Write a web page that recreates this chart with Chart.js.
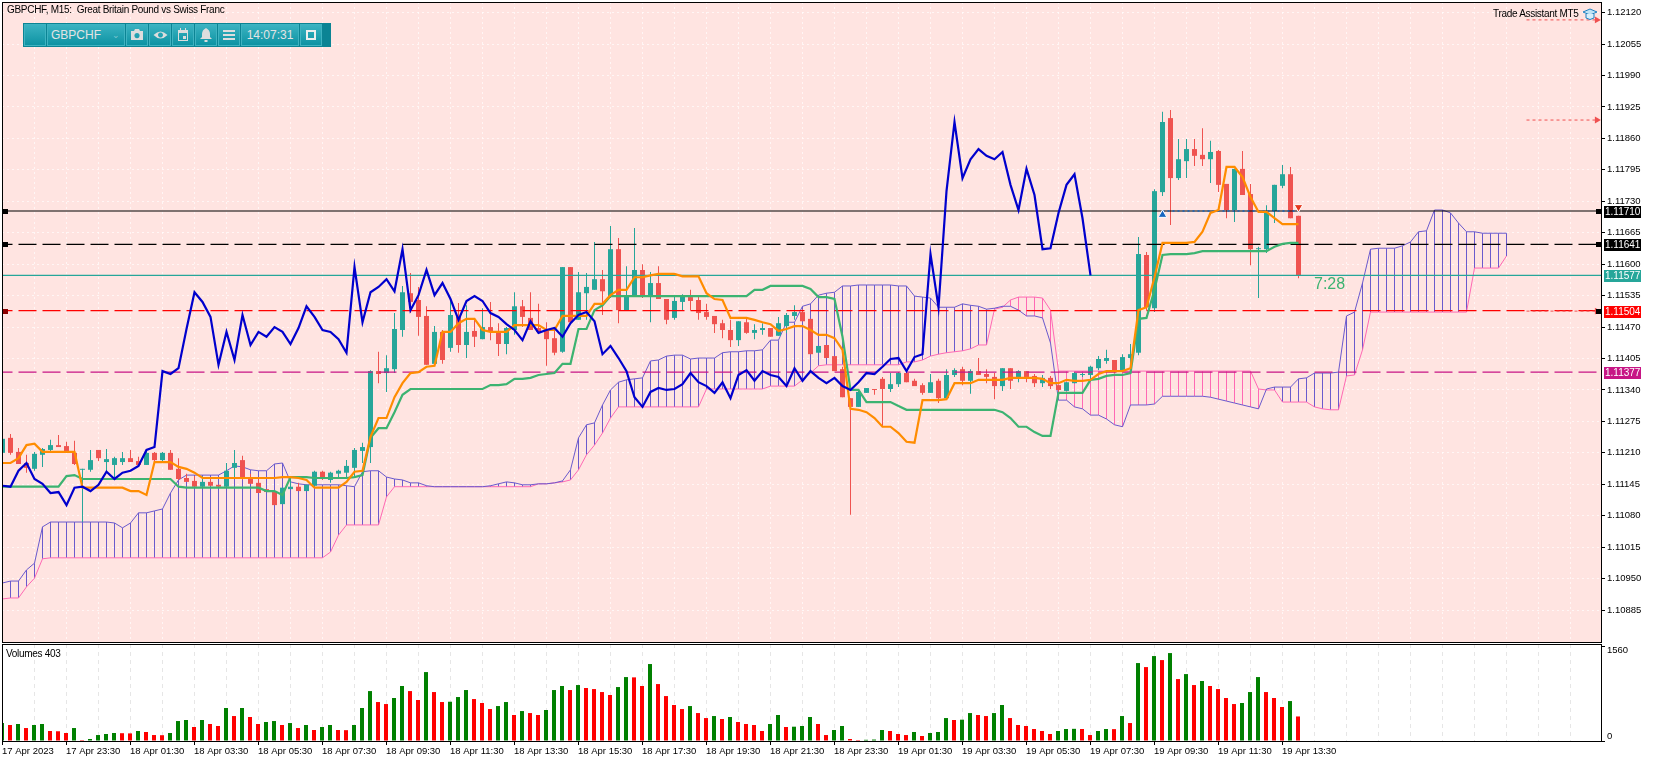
<!DOCTYPE html>
<html lang="en">
<head>
<meta charset="UTF-8">
<title>GBPCHF M15</title>
<script src="https://cdn.jsdelivr.net/npm/chart.js@4"></script>
<style>
  body { margin: 0; background: #fff; width: 1654px; height: 762px; overflow: hidden; font-family: "Liberation Sans", sans-serif; }
  canvas { position: absolute; left: 0; }
  #main { top: 0; }
  #vol { top: 643px; }
  .txt { position: absolute; white-space: pre; color: #000; font-size: 10px; letter-spacing: -0.3px; line-height: 12px; }
  #bar { position: absolute; left: 23px; top: 23px; width: 308px; height: 24px; background: #0b8494; display: flex; padding: 1px; box-sizing: border-box; gap: 1px; }
  #bar div { box-sizing: border-box; height: 22px; background: linear-gradient(#3ab2c1, #0e93a3); border: 1px solid #3fb3c1; color: #e4e4e4; font-size: 12px; line-height: 20px; text-align: center; width: 22px; position: relative; }
  #bar svg { position: absolute; left: 3px; top: 2px; }
</style>
</head>
<body>
<canvas id="main" width="1654" height="644"></canvas>
<canvas id="vol" width="1654" height="119"></canvas>
<div class="txt" style="left:7px;top:4px">GBPCHF, M15:  Great Britain Pound vs Swiss Franc</div>
<div class="txt" style="left:6px;top:648px">Volumes 403</div>
<div class="txt" style="left:1493px;top:8px">Trade Assistant MT5</div>
<div class="txt" style="left:1314px;top:275px;font-size:16px;letter-spacing:0;line-height:18px;color:#3cb371">7:28</div>
<svg style="position:absolute;left:1582px;top:7px" width="16" height="15" viewBox="0 0 16 15">
  <path d="M1 5 L8 2 L15 5 L8 8 Z" fill="#bfe3f5" stroke="#1e7fc0"/>
  <path d="M4 7 V11 Q8 14 12 11 V7" fill="#d8eefa" stroke="#1e7fc0"/>
</svg>
<div id="bar">
  <div style="width:22px"></div>
  <div style="width:78px;text-align:left;padding-left:3px">GBPCHF<span style="position:absolute;right:4px;top:0;color:#7fc6d0;font-size:9px">&#8964;</span></div>
  <div><svg width="14" height="16" viewBox="0 0 14 16"><path d="M1 4 H4 L5 2 H9 L10 4 H13 V13 H1 Z M7 6 A2.6 2.6 0 1 0 7.01 6 Z" fill="#ddd" fill-rule="evenodd"/></svg></div>
  <div><svg width="15" height="16" viewBox="0 0 15 16"><path d="M0.5 8 Q7.5 1 14.5 8 Q7.5 15 0.5 8 Z M7.5 5.5 A2.5 2.5 0 1 0 7.51 5.5 Z" fill="#ddd" fill-rule="evenodd"/></svg></div>
  <div><svg width="14" height="16" viewBox="0 0 14 16"><path d="M2 3 H4 V1 H5 V3 H9 V1 H10 V3 H12 V14 H2 Z M3 6 V13 H11 V6 Z M7 9 H10 V12 H7 Z" fill="#ddd" fill-rule="evenodd"/></svg></div>
  <div><svg width="14" height="16" viewBox="0 0 14 16"><path d="M7 1 Q11 3 11 7 V10 L13 12 H1 L3 10 V7 Q3 3 7 1 Z M5.5 13 H8.5 V15 H5.5 Z" fill="#ddd"/></svg></div>
  <div><svg width="14" height="16" viewBox="0 0 14 16"><path d="M1 3 H13 V5 H1 Z M1 7 H13 V9 H1 Z M1 11 H13 V13 H1 Z" fill="#ddd"/></svg></div>
  <div style="width:58px">14:07:31</div>
  <div><svg width="14" height="16" viewBox="0 0 14 16"><path d="M3 4 H11 V12 H3 Z" fill="none" stroke="#eee" stroke-width="2"/></svg></div>
</div>
<script>
// candles
const opens = [
  1.11210,1.11241,1.11212,1.11189,1.11177,1.11206,1.11216,1.11226,1.11224,1.11210,
  1.11175,1.11175,1.11216,1.11191,1.11185,1.11191,1.11199,1.11193,1.11185,1.11210,
  1.11195,1.11210,1.11177,1.11158,1.11152,1.11140,1.11150,1.11144,1.11140,1.11179,
  1.11195,1.11156,1.11148,1.11135,1.11129,1.11104,1.11135,1.11140,1.11131,1.11142,
  1.11171,1.11154,1.11167,1.11169,1.11179,1.11214,1.11222,1.11379,1.11375,1.11383,
  1.11464,1.11540,1.11526,1.11493,1.11394,1.11460,1.11427,1.11491,1.11433,1.11462,
  1.11445,1.11470,1.11460,1.11435,1.11464,1.11513,1.11489,1.11468,1.11462,1.11447,
  1.11419,1.11594,1.11485,1.11540,1.11547,1.11569,1.11534,1.11631,1.11505,1.11536,
  1.11588,1.11536,1.11561,1.11528,1.11489,1.11522,1.11532,1.11526,1.11501,1.11493,
  1.11478,1.11464,1.11443,1.11480,1.11458,1.11464,1.11468,1.11452,1.11472,1.11493,
  1.11501,1.11487,1.11417,1.11433,1.11410,1.11383,1.11323,1.11305,1.11334,1.11342,
  1.11363,1.11342,1.11352,1.11375,1.11359,1.11350,1.11334,1.11359,1.11323,1.11371,
  1.11383,1.11359,1.11379,1.11373,1.11367,1.11348,1.11385,1.11365,1.11379,1.11369,
  1.11354,1.11365,1.11350,1.11338,1.11354,1.11371,1.11371,1.11385,1.11400,1.11402,
  1.11381,1.11406,1.11417,1.11619,1.11509,1.11749,1.11902,1.11778,1.11813,1.11838,
  1.11826,1.11817,1.11834,1.11766,1.11712,1.11797,1.11745,1.11631,1.11631,1.11710,
  1.11762,1.11786,1.11700
];
const highs = [
  1.11241,1.11249,1.11220,1.11206,1.11212,1.11220,1.11237,1.11247,1.11233,1.11235,
  1.11177,1.11216,1.11216,1.11218,1.11202,1.11212,1.11216,1.11202,1.11216,1.11212,
  1.11212,1.11216,1.11199,1.11167,1.11162,1.11162,1.11158,1.11144,1.11189,1.11216,
  1.11204,1.11167,1.11158,1.11135,1.11129,1.11138,1.11160,1.11148,1.11144,1.11173,
  1.11173,1.11171,1.11175,1.11195,1.11220,1.11231,1.11381,1.11419,1.11412,1.11499,
  1.11555,1.11582,1.11553,1.11513,1.11472,1.11464,1.11526,1.11520,1.11515,1.11485,
  1.11509,1.11522,1.11478,1.11470,1.11542,1.11526,1.11542,1.11518,1.11480,1.11468,
  1.11594,1.11594,1.11584,1.11582,1.11646,1.11588,1.11679,1.11654,1.11596,1.11675,
  1.11600,1.11584,1.11596,1.11528,1.11536,1.11538,1.11547,1.11532,1.11518,1.11493,
  1.11485,1.11485,1.11482,1.11491,1.11476,1.11478,1.11468,1.11491,1.11499,1.11515,
  1.11507,1.11487,1.11431,1.11433,1.11410,1.11388,1.11323,1.11340,1.11344,1.11342,
  1.11367,1.11375,1.11377,1.11377,1.11363,1.11354,1.11373,1.11363,1.11383,1.11385,
  1.11388,1.11383,1.11406,1.11383,1.11375,1.11385,1.11385,1.11381,1.11379,1.11373,
  1.11371,1.11369,1.11350,1.11356,1.11377,1.11375,1.11390,1.11410,1.11423,1.11402,
  1.11414,1.11435,1.11656,1.11625,1.11755,1.11915,1.11919,1.11859,1.11859,1.11859,
  1.11881,1.11855,1.11836,1.11766,1.11797,1.11834,1.11766,1.11636,1.11722,1.11764,
  1.11805,1.11801,1.11700
];
const lows = [
  1.11208,1.11206,1.11187,1.11169,1.11173,1.11181,1.11212,1.11222,1.11210,1.11185,
  1.11067,1.11171,1.11193,1.11171,1.11158,1.11185,1.11191,1.11183,1.11185,1.11193,
  1.11193,1.11175,1.11154,1.11150,1.11140,1.11140,1.11142,1.11140,1.11138,1.11160,
  1.11154,1.11146,1.11127,1.11129,1.11102,1.11104,1.11135,1.11131,1.11131,1.11140,
  1.11154,1.11148,1.11158,1.11160,1.11158,1.11189,1.11189,1.11354,1.11336,1.11375,
  1.11450,1.11499,1.11452,1.11392,1.11392,1.11394,1.11419,1.11417,1.11406,1.11429,
  1.11445,1.11443,1.11410,1.11414,1.11454,1.11470,1.11464,1.11458,1.11390,1.11412,
  1.11417,1.11480,1.11485,1.11485,1.11547,1.11495,1.11530,1.11478,1.11505,1.11532,
  1.11530,1.11480,1.11528,1.11476,1.11485,1.11505,1.11505,1.11485,1.11485,1.11458,
  1.11447,1.11429,1.11431,1.11456,1.11445,1.11454,1.11450,1.11452,1.11458,1.11485,
  1.11482,1.11414,1.11417,1.11406,1.11379,1.11325,1.11082,1.11305,1.11334,1.11330,
  1.11264,1.11336,1.11346,1.11356,1.11348,1.11330,1.11334,1.11313,1.11323,1.11367,
  1.11350,1.11332,1.11371,1.11354,1.11321,1.11338,1.11342,1.11356,1.11356,1.11346,
  1.11346,1.11342,1.11330,1.11338,1.11354,1.11367,1.11361,1.11381,1.11394,1.11375,
  1.11379,1.11381,1.11412,1.11505,1.11501,1.11741,1.11681,1.11774,1.11778,1.11803,
  1.11803,1.11768,1.11749,1.11695,1.11687,1.11743,1.11598,1.11530,1.11623,1.11685,
  1.11757,1.11695,1.11571
];
const closes = [
  1.11239,1.11210,1.11187,1.11179,1.11208,1.11218,1.11226,1.11222,1.11212,1.11187,
  1.11177,1.11195,1.11199,1.11197,1.11199,1.11199,1.11191,1.11185,1.11210,1.11195,
  1.11210,1.11175,1.11156,1.11150,1.11140,1.11150,1.11142,1.11140,1.11173,1.11189,
  1.11156,1.11146,1.11127,1.11129,1.11102,1.11138,1.11140,1.11131,1.11144,1.11171,
  1.11156,1.11169,1.11173,1.11183,1.11216,1.11222,1.11379,1.11373,1.11385,1.11466,
  1.11542,1.11522,1.11491,1.11392,1.11460,1.11402,1.11495,1.11433,1.11460,1.11450,
  1.11470,1.11460,1.11435,1.11468,1.11513,1.11491,1.11464,1.11460,1.11445,1.11417,
  1.11594,1.11480,1.11542,1.11553,1.11569,1.11544,1.11631,1.11505,1.11536,1.11588,
  1.11536,1.11561,1.11528,1.11485,1.11524,1.11534,1.11524,1.11499,1.11491,1.11476,
  1.11464,1.11443,1.11482,1.11458,1.11464,1.11468,1.11450,1.11478,1.11495,1.11501,
  1.11482,1.11414,1.11431,1.11406,1.11379,1.11325,1.11305,1.11336,1.11344,1.11340,
  1.11342,1.11352,1.11375,1.11356,1.11348,1.11334,1.11356,1.11323,1.11371,1.11381,
  1.11359,1.11379,1.11371,1.11367,1.11348,1.11385,1.11359,1.11379,1.11365,1.11354,
  1.11365,1.11348,1.11340,1.11356,1.11375,1.11373,1.11388,1.11404,1.11406,1.11379,
  1.11408,1.11414,1.11621,1.11511,1.11751,1.11894,1.11778,1.11817,1.11838,1.11824,
  1.11817,1.11832,1.11764,1.11712,1.11797,1.11743,1.11631,1.11633,1.11706,1.11764,
  1.11786,1.11695,1.11577
];

// ichimoku lines
const tenkan = [
  1.11189,1.11189,1.11199,1.11226,1.11229,1.11212,1.11212,1.11212,1.11212,1.11212,
  1.11138,1.11138,1.11138,1.11138,1.11138,1.11138,1.11131,1.11131,1.11123,1.11191,
  1.11191,1.11191,1.11181,1.11177,1.11169,1.11158,1.11158,1.11158,1.11158,1.11158,
  1.11158,1.11158,1.11158,1.11158,1.11158,1.11160,1.11160,1.11158,1.11154,1.11138,
  1.11138,1.11138,1.11138,1.11150,1.11171,1.11173,1.11243,1.11282,1.11282,1.11325,
  1.11354,1.11375,1.11377,1.11388,1.11390,1.11460,1.11460,1.11478,1.11487,1.11487,
  1.11464,1.11460,1.11460,1.11460,1.11474,1.11474,1.11474,1.11474,1.11464,1.11464,
  1.11493,1.11493,1.11493,1.11493,1.11518,1.11518,1.11536,1.11547,1.11547,1.11573,
  1.11573,1.11577,1.11580,1.11580,1.11580,1.11575,1.11575,1.11575,1.11540,1.11528,
  1.11526,1.11489,1.11489,1.11489,1.11485,1.11480,1.11476,1.11462,1.11466,1.11472,
  1.11472,1.11464,1.11454,1.11454,1.11447,1.11423,1.11301,1.11299,1.11294,1.11282,
  1.11264,1.11264,1.11251,1.11233,1.11231,1.11319,1.11319,1.11319,1.11321,1.11354,
  1.11354,1.11354,1.11361,1.11361,1.11361,1.11361,1.11365,1.11365,1.11365,1.11365,
  1.11363,1.11354,1.11354,1.11361,1.11359,1.11359,1.11361,1.11373,1.11379,1.11379,
  1.11379,1.11385,1.11505,1.11511,1.11573,1.11644,1.11644,1.11644,1.11644,1.11646,
  1.11667,1.11706,1.11712,1.11801,1.11801,1.11780,1.11739,1.11708,1.11708,1.11695,
  1.11683,1.11683,1.11683
];
const kijun = [
  1.11140,1.11140,1.11140,1.11140,1.11140,1.11140,1.11140,1.11140,1.11162,1.11164,
  1.11156,1.11156,1.11156,1.11156,1.11156,1.11156,1.11156,1.11156,1.11156,1.11156,
  1.11156,1.11156,1.11140,1.11138,1.11138,1.11138,1.11138,1.11138,1.11138,1.11138,
  1.11138,1.11138,1.11138,1.11131,1.11131,1.11123,1.11160,1.11160,1.11160,1.11158,
  1.11158,1.11158,1.11158,1.11158,1.11160,1.11164,1.11241,1.11261,1.11261,1.11294,
  1.11330,1.11342,1.11342,1.11342,1.11342,1.11342,1.11342,1.11342,1.11342,1.11342,
  1.11342,1.11350,1.11350,1.11352,1.11363,1.11363,1.11365,1.11371,1.11373,1.11375,
  1.11394,1.11394,1.11466,1.11466,1.11505,1.11515,1.11534,1.11534,1.11534,1.11534,
  1.11534,1.11534,1.11534,1.11534,1.11534,1.11534,1.11534,1.11534,1.11534,1.11534,
  1.11534,1.11534,1.11534,1.11534,1.11547,1.11547,1.11555,1.11555,1.11555,1.11555,
  1.11555,1.11549,1.11532,1.11532,1.11528,1.11450,1.11340,1.11340,1.11315,1.11315,
  1.11315,1.11315,1.11307,1.11299,1.11299,1.11299,1.11299,1.11299,1.11299,1.11299,
  1.11299,1.11299,1.11299,1.11299,1.11299,1.11294,1.11282,1.11264,1.11264,1.11253,
  1.11245,1.11245,1.11334,1.11334,1.11334,1.11334,1.11361,1.11363,1.11369,1.11371,
  1.11371,1.11375,1.11487,1.11489,1.11547,1.11619,1.11621,1.11621,1.11621,1.11623,
  1.11627,1.11627,1.11627,1.11627,1.11627,1.11627,1.11627,1.11627,1.11627,1.11636,
  1.11642,1.11644,1.11644
];
const chikou = [
  1.11142,1.11140,1.11173,1.11189,1.11156,1.11146,1.11127,1.11129,1.11102,1.11138,
  1.11140,1.11131,1.11144,1.11171,1.11156,1.11169,1.11173,1.11183,1.11216,1.11222,
  1.11379,1.11373,1.11385,1.11466,1.11542,1.11522,1.11491,1.11392,1.11460,1.11402,
  1.11495,1.11433,1.11460,1.11450,1.11470,1.11460,1.11435,1.11468,1.11513,1.11491,
  1.11464,1.11460,1.11445,1.11417,1.11594,1.11480,1.11542,1.11553,1.11569,1.11544,
  1.11631,1.11505,1.11536,1.11588,1.11536,1.11561,1.11528,1.11485,1.11524,1.11534,
  1.11524,1.11499,1.11491,1.11476,1.11464,1.11443,1.11482,1.11458,1.11464,1.11468,
  1.11450,1.11478,1.11495,1.11501,1.11482,1.11414,1.11431,1.11406,1.11379,1.11325,
  1.11305,1.11336,1.11344,1.11340,1.11342,1.11352,1.11375,1.11356,1.11348,1.11334,
  1.11356,1.11323,1.11371,1.11381,1.11359,1.11379,1.11371,1.11367,1.11348,1.11385,
  1.11359,1.11379,1.11365,1.11354,1.11365,1.11348,1.11340,1.11356,1.11375,1.11373,
  1.11388,1.11404,1.11406,1.11379,1.11408,1.11414,1.11621,1.11511,1.11751,1.11894,
  1.11778,1.11817,1.11838,1.11824,1.11817,1.11832,1.11764,1.11712,1.11797,1.11743,
  1.11631,1.11633,1.11706,1.11764,1.11786,1.11695,1.11577
];
const senkouA = [
  1.10941,1.10945,1.10945,1.10968,1.10982,1.11057,1.11067,1.11067,1.11067,1.11067,
  1.11067,1.11067,1.11067,1.11067,1.11065,1.11055,1.11065,1.11086,1.11086,1.11090,
  1.11094,1.11127,1.11154,1.11164,1.11164,1.11164,1.11164,1.11164,1.11173,1.11183,
  1.11181,1.11175,1.11173,1.11173,1.11187,1.11189,1.11150,1.11146,1.11144,1.11144,
  1.11144,1.11144,1.11144,1.11142,1.11140,1.11171,1.11173,1.11173,1.11160,1.11156,
  1.11154,1.11148,1.11148,1.11142,1.11140,1.11140,1.11140,1.11140,1.11140,1.11140,
  1.11140,1.11142,1.11146,1.11150,1.11148,1.11144,1.11144,1.11146,1.11146,1.11148,
  1.11152,1.11175,1.11241,1.11268,1.11272,1.11309,1.11340,1.11356,1.11361,1.11363,
  1.11365,1.11400,1.11402,1.11410,1.11412,1.11412,1.11404,1.11406,1.11406,1.11406,
  1.11417,1.11419,1.11419,1.11421,1.11421,1.11423,1.11443,1.11443,1.11480,1.11480,
  1.11513,1.11518,1.11536,1.11540,1.11542,1.11555,1.11555,1.11557,1.11557,1.11557,
  1.11557,1.11557,1.11555,1.11555,1.11534,1.11532,1.11530,1.11511,1.11511,1.11511,
  1.11518,1.11515,1.11513,1.11507,1.11509,1.11513,1.11513,1.11505,1.11493,1.11493,
  1.11489,1.11437,1.11319,1.11319,1.11305,1.11301,1.11288,1.11288,1.11280,1.11268,
  1.11264,1.11309,1.11309,1.11309,1.11311,1.11327,1.11327,1.11327,1.11327,1.11327,
  1.11327,1.11325,1.11321,1.11317,1.11313,1.11309,1.11305,1.11301,1.11342,1.11346,
  1.11346,1.11346,1.11363,1.11365,1.11375,1.11375,1.11375,1.11377,1.11493,1.11501,
  1.11561,1.11631,1.11633,1.11633,1.11633,1.11638,1.11646,1.11667,1.11669,1.11712,
  1.11712,1.11706,1.11685,1.11667,1.11667,1.11664,1.11664,1.11664,1.11664
];
const senkouB = [
  1.10908,1.10910,1.10910,1.10933,1.10951,1.10991,1.10993,1.10993,1.10993,1.10993,
  1.10993,1.10993,1.10993,1.10993,1.10993,1.10993,1.10993,1.10993,1.10993,1.10993,
  1.10993,1.10993,1.10993,1.10993,1.10993,1.10993,1.10993,1.10993,1.10993,1.10993,
  1.10993,1.10993,1.10993,1.10993,1.10993,1.10993,1.10993,1.10993,1.10993,1.10993,
  1.10993,1.11005,1.11040,1.11061,1.11061,1.11061,1.11061,1.11061,1.11119,1.11140,
  1.11140,1.11140,1.11140,1.11140,1.11140,1.11140,1.11140,1.11140,1.11140,1.11140,
  1.11140,1.11140,1.11140,1.11140,1.11140,1.11140,1.11140,1.11146,1.11146,1.11148,
  1.11150,1.11154,1.11175,1.11206,1.11226,1.11251,1.11282,1.11305,1.11305,1.11305,
  1.11305,1.11305,1.11305,1.11305,1.11305,1.11305,1.11305,1.11305,1.11342,1.11342,
  1.11342,1.11342,1.11342,1.11342,1.11342,1.11342,1.11348,1.11348,1.11348,1.11348,
  1.11361,1.11375,1.11390,1.11392,1.11392,1.11392,1.11392,1.11392,1.11392,1.11392,
  1.11392,1.11392,1.11392,1.11398,1.11398,1.11402,1.11410,1.11414,1.11417,1.11419,
  1.11421,1.11425,1.11433,1.11433,1.11507,1.11511,1.11526,1.11532,1.11532,1.11532,
  1.11530,1.11505,1.11379,1.11379,1.11379,1.11379,1.11379,1.11379,1.11379,1.11379,
  1.11379,1.11379,1.11379,1.11379,1.11379,1.11379,1.11379,1.11379,1.11379,1.11379,
  1.11379,1.11379,1.11379,1.11379,1.11379,1.11379,1.11379,1.11342,1.11340,1.11340,
  1.11315,1.11315,1.11315,1.11315,1.11305,1.11301,1.11299,1.11299,1.11369,1.11371,
  1.11423,1.11501,1.11501,1.11501,1.11501,1.11501,1.11501,1.11501,1.11501,1.11501,
  1.11501,1.11501,1.11501,1.11501,1.11592,1.11592,1.11592,1.11592,1.11617
];

const volumes = [
  295,263,279,213,263,279,164,160,131,213,
  16,33,98,115,131,128,125,164,148,98,
  95,131,328,345,230,345,279,246,542,410,
  542,394,279,312,328,263,295,213,263,181,
  230,263,181,178,263,542,820,640,607,706,
  903,820,673,1132,804,640,645,722,837,689,
  624,525,574,640,427,492,459,427,509,837,
  903,837,919,870,853,804,755,886,1050,1045,
  903,1264,935,738,591,525,574,459,377,410,
  361,394,312,279,263,164,279,427,230,235,
  246,394,279,98,181,246,33,16,20,24,
  181,164,115,98,148,82,131,148,377,345,
  350,459,427,410,459,591,377,263,246,197,
  164,115,164,197,200,197,98,164,197,195,
  410,295,1280,1214,1395,1329,1444,1017,1099,919,
  985,903,853,706,607,624,804,1050,804,706,
  558,656,403
];

const priceTicks = [1.12120,1.12055,1.11990,1.11925,1.11860,1.11795,1.11730,1.11665,1.11600,1.11535,1.11470,1.11405,1.11340,1.11275,1.11210,1.11145,1.11080,1.11015,1.10950,1.10885];
const timeLabels = ["17 Apr 2023","17 Apr 23:30","18 Apr 01:30","18 Apr 03:30","18 Apr 05:30","18 Apr 07:30","18 Apr 09:30","18 Apr 11:30","18 Apr 13:30","18 Apr 15:30","18 Apr 17:30","18 Apr 19:30","18 Apr 21:30","18 Apr 23:30","19 Apr 01:30","19 Apr 03:30","19 Apr 05:30","19 Apr 07:30","19 Apr 09:30","19 Apr 11:30","19 Apr 13:30"];

// horizontal levels drawn on the chart
const levels = [1.11710, 1.11641, 1.11577, 1.11504, 1.11377];
const levelColors = ["#000000", "#000000", "#26a69a", "#ff0000", "#c71585"];
const levelDashed = [false, true, false, true, true];
const levelHandles = [true, true, false, true, false];
const tradeLevels = [1.12105, 1.11898, 1.11503];
const buySignal = [145, 1.11702];
const sellSignal = [162, 1.11718];

const UP = "#26a69a", DOWN = "#ef5350";
const BARS = 1599 / 8;
const gridIdx = [];
for (let i = 0; i < 200; i += 4) gridIdx.push(i);

const pts = arr => arr.map((v, i) => ({ x: i, y: v }));
const lineDs = (arr, color, width, order) => ({
  type: "line", data: pts(arr), borderColor: color, borderWidth: width,
  pointRadius: 0, tension: 0, order
});
const barDs = (data, color, width, order) => ({
  data, backgroundColor: color, barThickness: width, grouped: false,
  inflateAmount: 0, borderWidth: 0, order
});

const baseOpts = {
  responsive: false,
  animation: false,
  events: [],
  plugins: { legend: { display: false }, tooltip: { enabled: false } }
};

// plot background and black frame
const framePlugin = color => ({
  id: "frame",
  beforeDraw(c) {
    const a = c.chartArea;
    c.ctx.fillStyle = color;
    c.ctx.fillRect(a.left, a.top, a.width, a.height);
  },
  afterDraw(c) {
    const a = c.chartArea, ctx = c.ctx;
    ctx.strokeStyle = "#000";
    ctx.lineWidth = 1;
    ctx.strokeRect(a.left + 0.5, a.top + 0.5, a.width, a.height);
  }
});

// price tags on the right axis and the little handles on the lines
const tagPlugin = {
  id: "tags",
  afterDraw(c) {
    const ctx = c.ctx, y = c.scales.y;
    ctx.font = "10px 'Liberation Sans'";
    ctx.textBaseline = "middle";
    ctx.textAlign = "left";
    levels.forEach((v, i) => {
      const py = Math.round(y.getPixelForValue(v));
      ctx.fillStyle = levelColors[i];
      ctx.fillRect(1604, py - 5, 37, 12);
      ctx.fillStyle = "#fff";
      ctx.fillText(v.toFixed(5), 1605, py + 1);
      if (levelHandles[i]) {
        ctx.fillStyle = i === 3 ? "#8b0000" : "#000";
        ctx.fillRect(3, py - 2, 5, 5);
        ctx.fillStyle = "#000";
        ctx.fillRect(1596, py - 2, 5, 5);
      }
    });
  }
};

const levelSets = levels.map((v, i) => ({
  type: "line",
  data: [{ x: -1, y: v }, { x: 201, y: v }],
  borderColor: levelColors[i], borderWidth: 1.2,
  borderDash: levelDashed[i] ? [18, 6] : [],
  pointRadius: 0, order: 5
}));
const tradeSets = tradeLevels.map(v => ({
  type: "line",
  data: [{ x: 190.5, y: v }, { x: 199.3, y: v }],
  borderColor: "#f05050", borderWidth: 1, borderDash: [3, 3],
  pointRadius: [0, 4], pointStyle: "triangle", pointRotation: 90,
  pointBackgroundColor: "#f05050", pointBorderWidth: 0, order: 4
}));

new Chart(document.getElementById("main"), {
  type: "bar",
  data: {
    datasets: [
      barDs(senkouA.map((v, i) => ({ x: i, y: [v, senkouB[i]] })), senkouA.map((v, i) => v >= senkouB[i] ? "#6a5acd" : "#ff69b4"), 1, 9),
      lineDs(senkouA, "#6a5acd", 1, 8),
      lineDs(senkouB, "#ff69b4", 1, 8),
      barDs(lows.map((v, i) => ({ x: i, y: [v, highs[i]] })), closes.map((v, i) => v >= opens[i] ? UP : DOWN), 1, 7),
      barDs(opens.map((v, i) => ({ x: i, y: [v, closes[i]] })), closes.map((v, i) => v >= opens[i] ? UP : DOWN), 5, 6),
      ...levelSets,
      ...tradeSets,
      { type: "line", data: [{ x: buySignal[0], y: levels[0] }, { x: sellSignal[0], y: levels[0] }], borderColor: "#1565c0", borderWidth: 1.5, borderDash: [2, 3], pointRadius: 0, order: 4 },
      lineDs(kijun, "#3cb371", 2.2, 3),
      lineDs(tenkan, "#ff8c00", 2.2, 2),
      lineDs(chikou, "#0000cd", 2.2, 1),
      { type: "line", showLine: false, data: [{ x: buySignal[0], y: buySignal[1] }], pointStyle: "triangle", pointRadius: 5, pointBackgroundColor: "#1565c0", pointBorderColor: "#fff", pointBorderWidth: 1, order: 0 },
      { type: "line", showLine: false, data: [{ x: sellSignal[0], y: sellSignal[1] }], pointStyle: "triangle", pointRotation: 180, pointRadius: 5, pointBackgroundColor: "#e53a1f", pointBorderColor: "#fff", pointBorderWidth: 1, order: 0 }
    ]
  },
  options: {
    ...baseOpts,
    layout: { autoPadding: false, padding: { left: 2, top: 2, bottom: 2, right: 0 } },
    scales: {
      x: {
        type: "linear", min: -0.0625, max: BARS - 0.0625, offset: false,
        afterBuildTicks: s => { s.ticks = gridIdx.map(v => ({ value: v })); },
        afterFit: s => { s.height = 0; },
        ticks: { display: false },
        border: { display: false, dash: [2, 3] },
        grid: { offset: false, color: "rgba(255,255,255,0.65)", drawTicks: false }
      },
      y: {
        position: "right", min: 1.10819, max: 1.12142,
        afterBuildTicks: s => { s.ticks = priceTicks.map(v => ({ value: v })); },
        afterFit: s => { s.width = 53; s.paddingTop = 0; s.paddingBottom = 0; },
        border: { display: false, dash: [2, 3] },
        grid: { color: "rgba(255,255,255,0.65)", tickColor: "#000", tickLength: 4, tickBorderDash: [] },
        ticks: {
          autoSkip: false, crossAlign: "near", padding: 2, color: "#000",
          font: { family: "Liberation Sans", size: 9.5 },
          callback: v => v.toFixed(5)
        }
      }
    }
  },
  plugins: [framePlugin("#ffe4e1"), tagPlugin]
});

new Chart(document.getElementById("vol"), {
  type: "bar",
  data: {
    datasets: [
      barDs(volumes.map((v, i) => ({ x: i, y: v })), volumes.map((v, i) => i === 0 || v > volumes[i - 1] ? "#008000" : "#ff0000"), 4, 1)
    ]
  },
  options: {
    ...baseOpts,
    layout: { autoPadding: false, padding: { left: 2, top: 1, bottom: 0, right: 0 } },
    scales: {
      x: {
        type: "linear", min: 0, max: BARS, offset: false,
        afterBuildTicks: s => { s.ticks = gridIdx.map(v => ({ value: v })); },
        afterFit: s => { s.height = 21; s.paddingLeft = 0; s.paddingRight = 0; },
        border: { display: false, dash: [4, 4] },
        grid: {
          offset: false, color: "#e6e6e6", tickLength: 4, tickBorderDash: [],
          tickColor: c => c.tick && c.tick.value % 8 === 0 && c.tick.value / 8 < timeLabels.length ? "#000" : "rgba(0,0,0,0)"
        },
        ticks: {
          autoSkip: false, maxRotation: 0, minRotation: 0, align: "start", padding: 1, color: "#000",
          font: { family: "Liberation Sans", size: 9.5 },
          callback: v => (v % 8 === 0 && timeLabels[v / 8]) || ""
        }
      },
      y: {
        position: "right", min: 0, max: 1593,
        afterBuildTicks: s => { s.ticks = [{ value: 0 }, { value: 1560 }]; },
        afterFit: s => { s.width = 53; },
        border: { display: false },
        grid: { drawOnChartArea: false, tickColor: "#000", tickLength: 4 },
        ticks: { display: false }
      }
    }
  },
  plugins: [framePlugin("#ffffff"), {
    id: "volLabels",
    afterDraw(c) {
      const ctx = c.ctx, y = c.scales.y;
      ctx.font = "9.5px 'Liberation Sans'";
      ctx.fillStyle = "#000";
      ctx.textAlign = "left";
      ctx.textBaseline = "middle";
      ctx.fillText("1560", 1607, y.getPixelForValue(1560) + 4);
      ctx.fillText("0", 1607, y.getPixelForValue(0) - 5);
    }
  }]
});
</script>
</body>
</html>
